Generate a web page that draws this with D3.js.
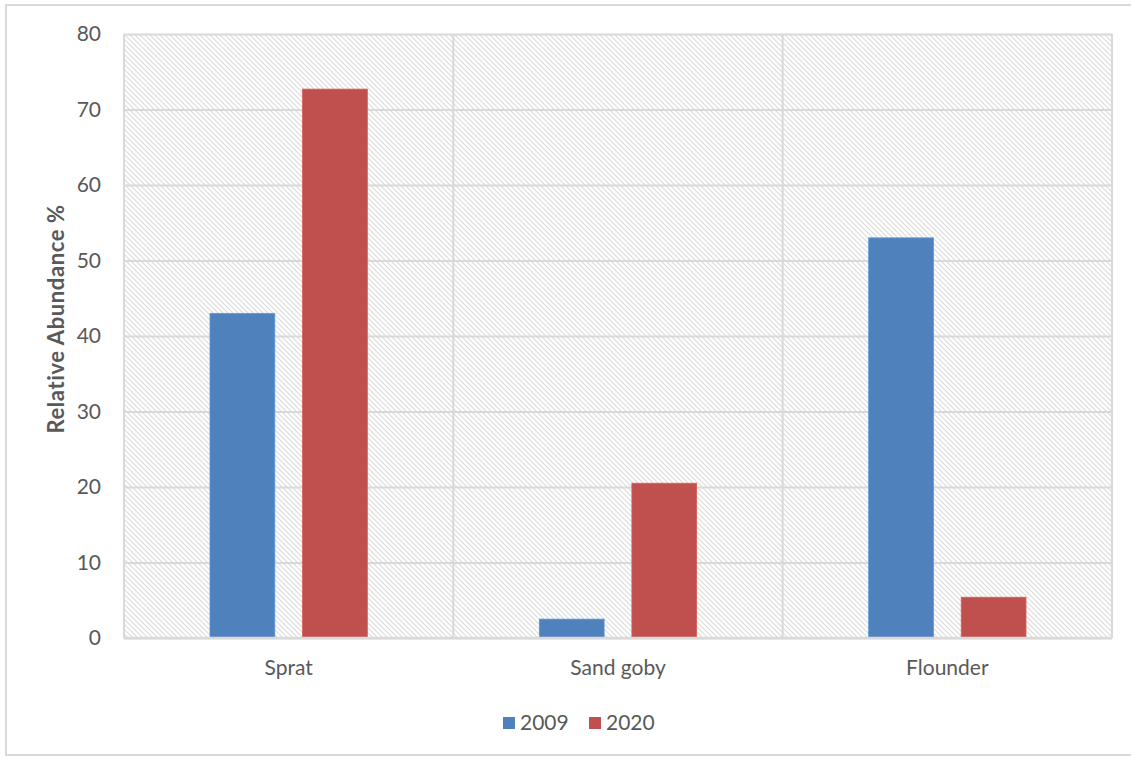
<!DOCTYPE html>
<html>
<head>
<meta charset="utf-8">
<script src="https://cdn.jsdelivr.net/npm/d3@7"></script>
<style>
  html, body { margin: 0; padding: 0; background: #fff; }
  svg { display: block; }
  svg text { font-family: Lato, "Open Sans", "Liberation Sans", sans-serif; }
</style>
</head>
<body>
<svg id="chart" width="1131" height="758"></svg>
<script>
// Relative abundance of fish species by survey year
const species = ["Sprat", "Sand goby", "Flounder"];
const years = ["2009", "2020"];
const values2009 = [43, 2.5, 53];
const values2020 = [72.7, 20.5, 5.4];
const yTicks = [0, 10, 20, 30, 40, 50, 60, 70, 80];
const seriesColors = ["#4F81BD", "#C0504D"];

const svg = d3.select("#chart");
const W = 1131, H = 758;
const margin = { left: 124, right: 19, top: 34, bottom: 120 };
const plotW = W - margin.left - margin.right;
const plotH = H - margin.top - margin.bottom;
const gridColor = "#d9d9d9";
const textColor = "#595959";
const font = "Lato, 'Open Sans', sans-serif";

// outer chart frame
svg.append("rect")
  .attr("x", 6).attr("y", 5).attr("width", W).attr("height", H - 8)
  .attr("fill", "#fff").attr("stroke", gridColor).attr("stroke-width", 2);

// diagonal hatch fill for the plot area
const defs = svg.append("defs");
const pat = defs.append("pattern")
  .attr("id", "hatch").attr("patternUnits", "userSpaceOnUse")
  .attr("width", 5).attr("height", 5);
pat.append("rect").attr("width", 5).attr("height", 5).attr("fill", "#fff");
pat.append("path")
  .attr("d", "M-1,-1 L6,6 M-1,4 L1,6 M4,-1 L6,1")
  .attr("stroke", "#dcdcdc").attr("stroke-width", 1.2);

const g = svg.append("g").attr("transform", `translate(${margin.left},${margin.top})`);

const x0 = d3.scaleBand().domain(species).range([0, plotW]).paddingInner(0).paddingOuter(0);
const x1 = d3.scaleBand().domain(years).range([86, x0.bandwidth() - 86]).paddingInner(0.3).paddingOuter(0);
const y = d3.scaleLinear().domain([0, 80]).range([plotH, 0]);

g.append("rect")
  .attr("x", 0).attr("y", 0).attr("width", plotW).attr("height", plotH)
  .attr("fill", "url(#hatch)");

// horizontal gridlines
g.append("g")
  .call(d3.axisLeft(y).tickValues(yTicks).tickSize(-plotW).tickFormat(""))
  .call(s => s.select(".domain").remove())
  .call(s => s.selectAll("line").attr("stroke", gridColor).attr("stroke-width", 2));

// vertical separators between categories and plot border
const vlines = [0, ...species.map(s => x0(s) + x0.bandwidth())];
g.selectAll(".vline").data(vlines).join("line")
  .attr("x1", d => d).attr("x2", d => d)
  .attr("y1", 0).attr("y2", plotH)
  .attr("stroke", gridColor).attr("stroke-width", 2);

// y tick labels
g.append("g")
  .call(d3.axisLeft(y).tickValues(yTicks).tickSize(0).tickPadding(23))
  .call(s => s.select(".domain").remove())
  .call(s => s.selectAll("text")
    .attr("fill", textColor).style("font-size", "21px").style("font-family", font));

// bars
const rows = species.map((s, i) => ({ species: s, vals: [values2009[i], values2020[i]] }));
const groups = g.selectAll(".grp").data(rows).join("g")
  .attr("transform", d => `translate(${x0(d.species)},0)`);
groups.selectAll("rect").data(d => d.vals.map((v, j) => ({ year: years[j], v, j })))
  .join("rect")
  .attr("x", d => x1(d.year))
  .attr("width", x1.bandwidth())
  .attr("y", d => y(d.v))
  .attr("height", d => plotH - y(d.v))
  .attr("fill", d => seriesColors[d.j])
  .attr("stroke", d => d3.color(seriesColors[d.j]).brighter(0.4))
  .attr("stroke-width", 0.8);

// baseline
g.append("line")
  .attr("x1", 0).attr("x2", plotW).attr("y1", plotH).attr("y2", plotH)
  .attr("stroke", gridColor).attr("stroke-width", 2.5);

// category labels
g.append("g")
  .attr("transform", `translate(0,${plotH})`)
  .call(d3.axisBottom(x0).tickSize(0).tickPadding(22))
  .call(s => s.select(".domain").remove())
  .call(s => s.selectAll("text")
    .attr("fill", textColor).style("font-size", "21px").style("font-family", font));

// y axis title
svg.append("text")
  .attr("transform", `translate(64,319) rotate(-90)`)
  .attr("text-anchor", "middle")
  .attr("fill", textColor)
  .style("font-size", "22px").style("font-weight", "bold").style("font-family", font)
  .style("letter-spacing", "0.6px")
  .text("Relative Abundance %");

// legend
const legend = svg.append("g").attr("transform", "translate(503,723)");
const legendX = [0, 86];
years.forEach((yr, i) => {
  const lg = legend.append("g").attr("transform", `translate(${legendX[i]},0)`);
  lg.append("rect").attr("x", 0).attr("y", -6).attr("width", 12).attr("height", 12)
    .attr("fill", seriesColors[i]);
  lg.append("text").attr("x", 17).attr("y", 0).attr("dy", "0.35em")
    .attr("fill", textColor).style("font-size", "21px").style("font-family", font).text(yr);
});
</script>
</body>
</html>
